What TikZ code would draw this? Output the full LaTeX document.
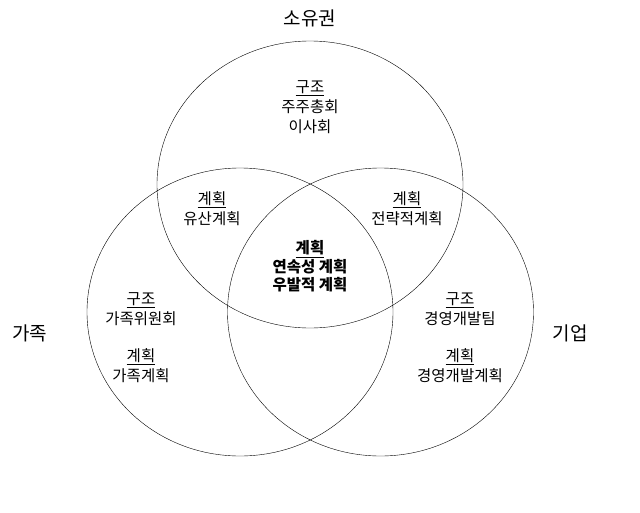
\documentclass[tikz,border=0pt]{standalone}
\usepackage{fontspec}
\setmainfont{Noto Sans CJK KR}
\usepackage{tikz}

\begin{document}
\begin{tikzpicture}[x=1pt,y=-1pt,
  setname/.style={font=\fontsize{19}{22}\selectfont},
  entry/.style={align=center,inner sep=0pt,font=\fontsize{15.5}{20}\selectfont}]
\useasboundingbox (0,0) rectangle (640,512);
% three sets, centre coordinates in pixels, radii as (x and y)
\coordinate (owner) at (310,184.5);
\coordinate (family) at (240,312);
\coordinate (company) at (380.5,312);
\draw (owner) ellipse (153pt and 143.5pt)
      (family) ellipse (153pt and 144pt)
      (company) ellipse (153pt and 144pt);

\node [setname] (ownname) at (310,18) {소유권};
\node [setname] (famname) at (30,333) {가족};
\node [setname] (bizname) at (570,333) {기업};

\node [entry] (ownstruct) at (310,107) {\underline{구조}\\주주총회\\이사회};
\node [entry] (inherit) at (212,208.5) {\underline{계획}\\유산계획};
\node [entry] (strategy) at (407,208.5) {\underline{계획}\\전략적계획};
\node [entry,font=\fontsize{15.5}{18.5}\selectfont\bfseries] (core) at (310,266.5) {\underline{계획}\\연속성 계획\\우발적 계획};
\node [entry] (famstruct) at (141,309) {\underline{구조}\\가족위원회};
\node [entry] (famplan) at (141,366) {\underline{계획}\\가족계획};
\node [entry] (bizstruct) at (460,309) {\underline{구조}\\경영개발팀};
\node [entry] (bizplan) at (460,366) {\underline{계획}\\경영개발계획};
\end{tikzpicture}
\end{document}
